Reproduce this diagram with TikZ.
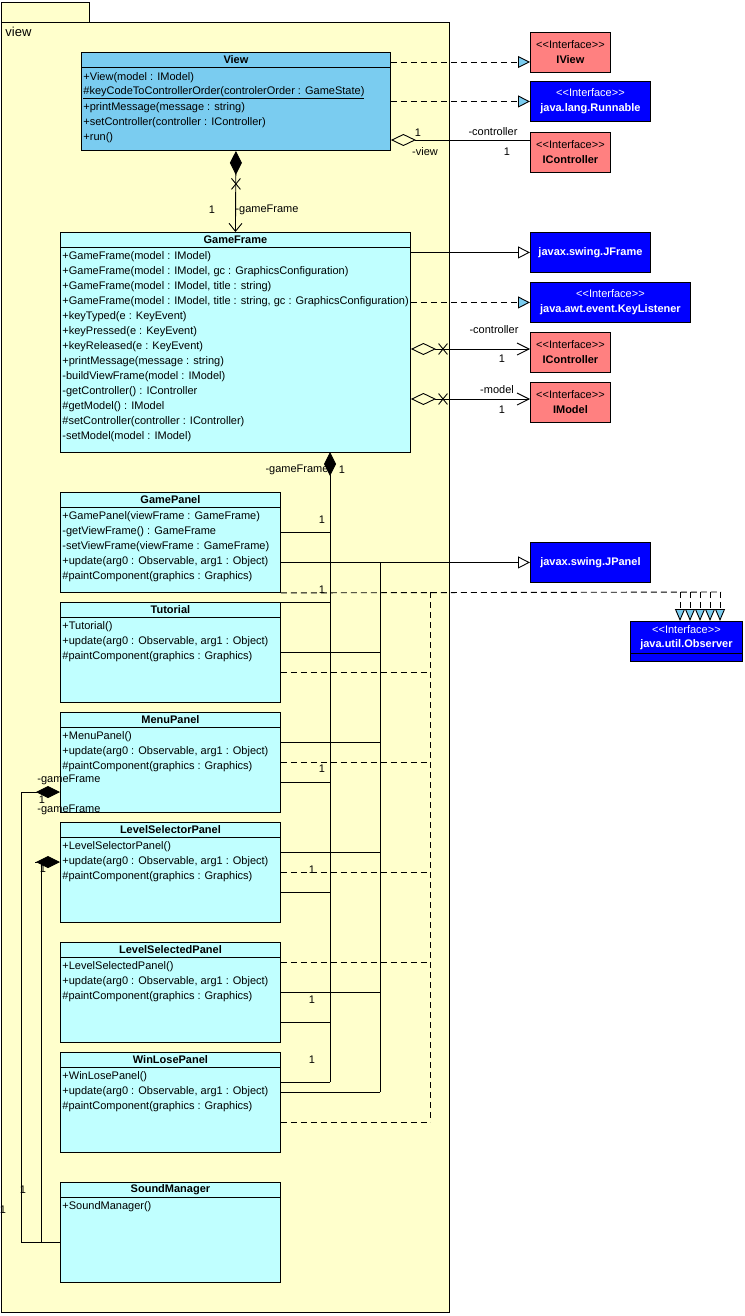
\documentclass[tikz,border=0pt]{standalone}
\usepackage{fontspec}
\setmainfont{Liberation Sans}[Ligatures=TeXOff]
\usepackage{tikz}
\usetikzlibrary{arrows.meta,calc,shapes.misc}
\definecolor{pkgyellow}{RGB}{255,255,204}
\definecolor{viewblue}{RGB}{122,204,240}
\definecolor{clscyan}{RGB}{192,255,255}
\definecolor{ifsalmon}{RGB}{255,128,128}
\definecolor{libblue}{RGB}{0,0,255}
\tikzstyle{pkg} = [draw, fill=pkgyellow, rectangle, anchor=north west, inner sep=0pt]
\tikzstyle{cls} = [draw, fill=clscyan, rectangle, anchor=north west, inner sep=0pt]
\tikzstyle{ttl} = [font=\fontsize{11}{13}\selectfont\bfseries, inner sep=0pt]
\tikzstyle{row} = [anchor=west, inner sep=0pt]
\tikzstyle{iface} = [draw, fill=ifsalmon, rectangle, anchor=north west, align=center,
minimum height=40pt, inner sep=0pt, font=\fontsize{11}{15}\selectfont]
\tikzstyle{lib} = [iface, fill=libblue, text=white]
\tikzstyle{lbl} = [inner sep=0pt]
\tikzstyle{xmark} = [draw, cross out, minimum width=8pt, minimum height=10pt, inner sep=0pt]
\tikzstyle{dashpat} = [dash pattern=on 6pt off 4pt]
\tikzstyle{real} = [dashpat, -{Triangle[length=12pt,width=12pt,fill=viewblue]}]
\tikzstyle{gen} = [-{Triangle[length=12pt,width=12pt,fill=white]}]
\tikzstyle{compo} = [{Diamond[length=24pt,width=12pt]}-]
\tikzstyle{compnav} = [{Diamond[length=24pt,width=12pt]}-{Straight Barb[length=8pt,width=13pt]}]
\tikzstyle{aggr} = [{Diamond[open,length=25pt,width=12pt]}-]
\tikzstyle{aggnav} = [{Diamond[open,length=25pt,width=12pt]}-{Straight Barb[length=12pt,width=12pt]}]
\begin{document}
\begin{tikzpicture}[x=1pt, y=-1pt, line width=0.9pt, font=\fontsize{11}{13}\selectfont]
	\useasboundingbox (0,0) rectangle (744,1316);
	% the package
	\node [pkg, minimum width=88.5pt, minimum height=20pt] (tab) at (0.5,2) {};
	\node [pkg, minimum width=448.5pt, minimum height=1290pt] (pkg) at (0.5,22) {};
	\node [anchor=west, inner sep=0pt, font=\fontsize{13}{15}\selectfont] (pkgname) at (5,32) {view};

	% the View class
	\node [cls, fill=viewblue, minimum width=309pt, minimum height=98pt] (view) at (81,52) {};
	\node [ttl] at ($(view.north)+(0,8)$) {View};
	\draw ($(view.north west)+(0,15)$) -- ($(view.north east)+(0,15)$);
	\foreach \t [count=\i] in {{+View(model : IModel)},
		{\underline{\#keyCodeToControllerOrder(controlerOrder : GameState)}},
		{+printMessage(message : string)}, {+setController(controller : IController)}, {+run()}}
	\node [row] at ($(view.north west)+(2,11+15*\i)$) {\t};

	% GameFrame
	\node [cls, minimum width=350pt, minimum height=220pt] (gf) at (60,232) {};
	\node [ttl] at ($(gf.north)+(0,8)$) {GameFrame};
	\draw ($(gf.north west)+(0,15)$) -- ($(gf.north east)+(0,15)$);
	\foreach \t [count=\i] in {{+GameFrame(model : IModel)},
		{+GameFrame(model : IModel, gc : GraphicsConfiguration)},
		{+GameFrame(model : IModel, title : string)},
		{+GameFrame(model : IModel, title : string, gc : GraphicsConfiguration)},
		{+keyTyped(e : KeyEvent)}, {+keyPressed(e : KeyEvent)}, {+keyReleased(e : KeyEvent)},
		{+printMessage(message : string)}, {-buildViewFrame(model : IModel)},
		{-getController() : IController}, {\#getModel() : IModel},
		{\#setController(controller : IController)}, {-setModel(model : IModel)}}
	\node [row] at ($(gf.north west)+(2,10+15*\i)$) {\t};

	% the panels
	\node [cls, minimum width=220pt, minimum height=100pt] (gp) at (60,492) {};
	\node [ttl] at ($(gp.north)+(0,8)$) {GamePanel};
	\draw ($(gp.north west)+(0,15)$) -- ($(gp.north east)+(0,15)$);
	\foreach \t [count=\i] in {{+GamePanel(viewFrame : GameFrame)}, {-getViewFrame() : GameFrame},
		{-setViewFrame(viewFrame : GameFrame)}, {+update(arg0 : Observable, arg1 : Object)},
		{\#paintComponent(graphics : Graphics)}}
	\node [row] at ($(gp.north west)+(2,10+15*\i)$) {\t};

	\node [cls, minimum width=220pt, minimum height=100pt] (tut) at (60,602) {};
	\node [ttl] at ($(tut.north)+(0,8)$) {Tutorial};
	\draw ($(tut.north west)+(0,15)$) -- ($(tut.north east)+(0,15)$);
	\foreach \t [count=\i] in {{+Tutorial()}, {+update(arg0 : Observable, arg1 : Object)},
		{\#paintComponent(graphics : Graphics)}}
	\node [row] at ($(tut.north west)+(2,10+15*\i)$) {\t};

	\node [cls, minimum width=220pt, minimum height=100pt] (mp) at (60,712) {};
	\node [ttl] at ($(mp.north)+(0,8)$) {MenuPanel};
	\draw ($(mp.north west)+(0,15)$) -- ($(mp.north east)+(0,15)$);
	\foreach \t [count=\i] in {{+MenuPanel()}, {+update(arg0 : Observable, arg1 : Object)},
		{\#paintComponent(graphics : Graphics)}}
	\node [row] at ($(mp.north west)+(2,10+15*\i)$) {\t};

	\node [cls, minimum width=220pt, minimum height=100pt] (lsp) at (60,822) {};
	\node [ttl] at ($(lsp.north)+(0,8)$) {LevelSelectorPanel};
	\draw ($(lsp.north west)+(0,15)$) -- ($(lsp.north east)+(0,15)$);
	\foreach \t [count=\i] in {{+LevelSelectorPanel()}, {+update(arg0 : Observable, arg1 : Object)},
		{\#paintComponent(graphics : Graphics)}}
	\node [row] at ($(lsp.north west)+(2,10+15*\i)$) {\t};

	\node [cls, minimum width=220pt, minimum height=100pt] (lsd) at (60,942) {};
	\node [ttl] at ($(lsd.north)+(0,8)$) {LevelSelectedPanel};
	\draw ($(lsd.north west)+(0,15)$) -- ($(lsd.north east)+(0,15)$);
	\foreach \t [count=\i] in {{+LevelSelectedPanel()}, {+update(arg0 : Observable, arg1 : Object)},
		{\#paintComponent(graphics : Graphics)}}
	\node [row] at ($(lsd.north west)+(2,10+15*\i)$) {\t};

	\node [cls, minimum width=220pt, minimum height=100pt] (wlp) at (60,1052) {};
	\node [ttl] at ($(wlp.north)+(0,8)$) {WinLosePanel};
	\draw ($(wlp.north west)+(0,15)$) -- ($(wlp.north east)+(0,15)$);
	\foreach \t [count=\i] in {{+WinLosePanel()}, {+update(arg0 : Observable, arg1 : Object)},
		{\#paintComponent(graphics : Graphics)}}
	\node [row] at ($(wlp.north west)+(2,10+15*\i)$) {\t};

	\node [cls, minimum width=220pt, minimum height=100pt] (snd) at (60,1182) {};
	\node [ttl] at ($(snd.north)+(0,8)$) {SoundManager};
	\draw ($(snd.north west)+(0,15)$) -- ($(snd.north east)+(0,15)$);
	\node [row] at ($(snd.north west)+(2,25)$) {+SoundManager()};

	% interfaces and library classes
	\node [iface, minimum width=80pt] (iview) at (530,32) {<<Interface>>\\\textbf{IView}};
	\node [lib, minimum width=120pt] (run) at (530,81) {<<Interface>>\\\textbf{java.lang.Runnable}};
	\node [iface, minimum width=80pt] (ictrlA) at (530,132) {<<Interface>>\\\textbf{IController}};
	\node [lib, minimum width=120pt] (jframe) at (530,232) {\textbf{javax.swing.JFrame}};
	\node [lib, minimum width=160pt] (kl) at (530,282) {<<Interface>>\\\textbf{java.awt.event.KeyListener}};
	\node [iface, minimum width=80pt] (ictrlB) at (530,332) {<<Interface>>\\\textbf{IController}};
	\node [iface, minimum width=80pt] (imodel) at (530,382) {<<Interface>>\\\textbf{IModel}};
	\node [lib, minimum width=120pt] (jpanel) at (530,542) {\textbf{javax.swing.JPanel}};
	\node [lib, minimum width=112pt] (obs) at (630,621) {};
	\node [lbl, text=white] at ($(obs.north)+(0,9)$) {<<Interface>>};
	\node [lbl, text=white, font=\fontsize{11}{13}\selectfont\bfseries] at ($(obs.north)+(0,24)$) {java.util.Observer};
	\draw ($(obs.north west)+(0,32)$) -- ($(obs.north east)+(0,32)$);

	% View relations
	\draw [real] (view.east |- 0,62) -- (iview.west |- 0,62);
	\draw [real] (view.east |- run.west) -- (run.west);
	\draw [aggr] (view.east |- 0,140) -- (ictrlA.west |- 0,140);
	\node [lbl] at (418,133) {1};
	\node [lbl] at (425,152) {-view};
	\node [lbl] at (493,132) {-controller};
	\node [lbl] at (507,152) {1};
	\draw [compnav] (view.south) -- (gf.north);
	\node [xmark] at ($(view.south)+(0,33)$) {};
	\node [lbl] at (212,210) {1};
	\node [lbl] at (267,210) {-gameFrame};

	% GameFrame relations
	\draw [gen] (gf.east |- jframe.west) -- (jframe.west);
	\draw [real] (gf.east |- kl.west) -- (kl.west);
	\draw [aggnav] (gf.east |- 0,349) -- (ictrlB.west |- 0,349);
	\node [xmark] at (443,349) {};
	\draw [aggnav] (gf.east |- 0,399) -- (imodel.west |- 0,399);
	\node [xmark] at (443,399) {};
	\node [lbl] at (494,330) {-controller};
	\node [lbl] at (502,359) {1};
	\node [lbl] at (497,390) {-model};
	\node [lbl] at (502,410) {1};

	% composition of the panels in GameFrame
	\coordinate (cbus) at (330,452);
	\coordinate (cend) at (330,1082);
	\draw [compo] (cbus) -- (cend);
	\foreach \n/\y in {gp/532, tut/602, mp/782, lsp/892, lsd/1022, wlp/1082}
	\draw (\n.east |- 0,\y) -- (cbus |- 0,\y);
	\node [lbl] at (297,470) {-gameFrame};
	\node [lbl] at (342,470) {1};
	\foreach \x/\y in {322/520, 322/590, 322/769, 312/870, 312/1000, 312/1060}
	\node [lbl] at (\x,\y) {1};

	% generalization to JPanel
	\coordinate (gbus) at (380,562);
	\coordinate (gend) at (380,1092);
	\draw [gen] (gp.east |- jpanel.west) -- (jpanel.west);
	\draw (gbus) -- (gend);
	\foreach \n/\y in {tut/652, mp/742, lsp/852, lsd/992, wlp/1092}
	\draw (\n.east |- 0,\y) -- (gbus |- 0,\y);

	% realization of Observer
	\coordinate (rbus) at (430,592);
	\coordinate (rend) at (430,1122);
	\draw [dashpat] (gp.south east) -- ($(obs.north west)+(91,-29)$);
	\draw [dashpat] (rbus) -- (rend);
	\foreach \n/\y in {tut/672, mp/762, lsp/872, lsd/962, wlp/1122}
	\draw [dashpat] (\n.east |- 0,\y) -- (rbus |- 0,\y);
	\foreach \k in {0,...,4}
	\draw [dashpat, -{Triangle[length=12pt,width=10pt,fill=viewblue]}]
	($(obs.north west)+(50+10*\k,-29)$) -- ($(obs.north west)+(50+10*\k,0)$);

	% SoundManager in MenuPanel and LevelSelectorPanel
	\coordinate (m1) at (21,792);
	\coordinate (m2) at (41,864);
	\draw [compo] (mp.west |- m1) -- (m1) |- (snd.west |- 0,1242);
	\draw [compo] (lsp.west |- 0,862) -- (35,862);
	\draw (m2) |- (snd.west |- 0,1242);
	\node [lbl, anchor=west] at (37,780) {-gameFrame};
	\node [lbl] at (42,800) {1};
	\node [lbl, anchor=west] at (37,810) {-gameFrame};
	\node [lbl] at (43,869) {1};
	\node [lbl] at (23,1190) {1};
	\node [lbl] at (3,1210) {1};
\end{tikzpicture}
\end{document}
